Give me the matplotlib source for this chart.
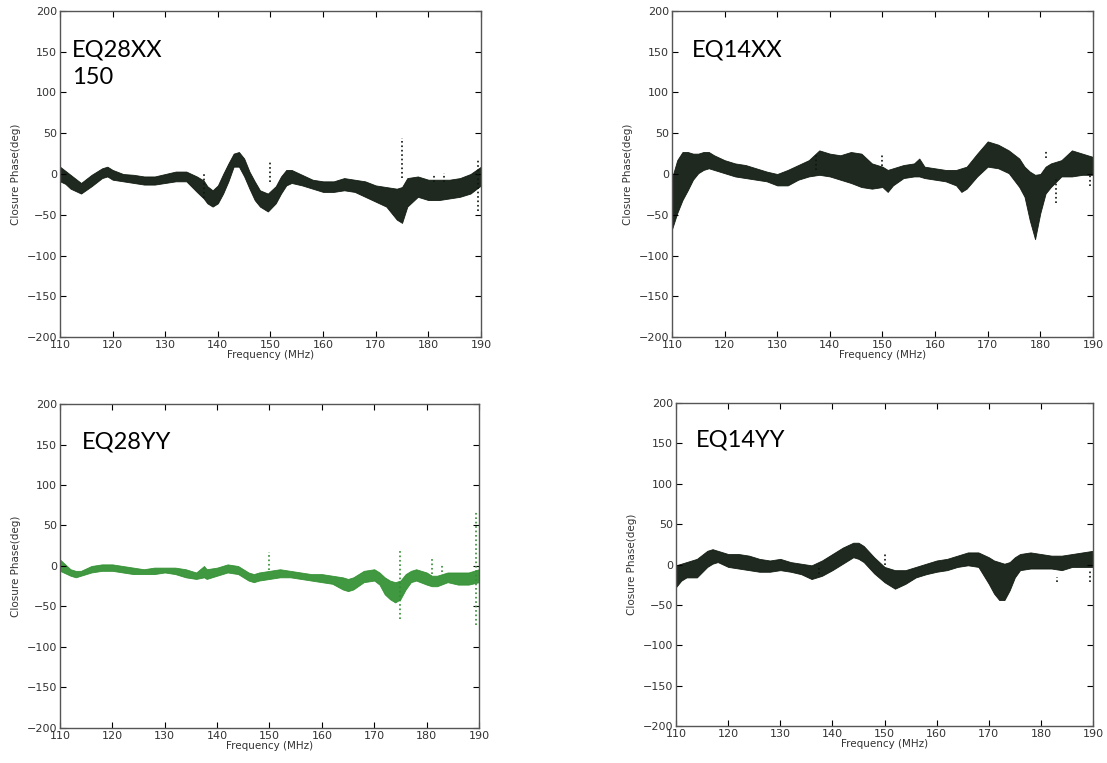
import matplotlib
matplotlib.use("Agg")
import matplotlib.pyplot as plt

# ---- EQ28XX (black) : band edges read at each frequency knot ----
eq28xx_freq = [110, 111, 112, 114, 116, 118, 119, 120, 122, 124, 126, 128, 130, 132, 134, 136, 137.3,
               138, 139, 140, 141, 142, 143, 144, 145, 146, 147, 148, 149.5, 151, 152, 153, 154, 156,
               158, 160, 162, 164, 166, 168, 170, 172, 174, 175, 176, 178, 180, 182, 184, 186, 188, 190]
eq28xx_hi = [9, 4, -1, -11, -1, 7, 9, 5, 0, -1, -3, -3, 0, 3, 3, -3, -8,
             -15, -20, -14, 0, 13, 25, 27, 19, 3, -9, -20, -24, -15, -3, 5, 5, -1,
             -7, -9, -9, -5, -7, -9, -14, -16, -18, -16, -5, -3, -7, -7, -7, -5, 0, 9]
eq28xx_lo = [-9, -12, -18, -24, -15, -5, -3, -7, -9, -11, -13, -13, -11, -9, -9, -22, -30,
             -36, -40, -36, -24, -9, 9, 9, -3, -18, -32, -40, -46, -36, -24, -14, -11, -14,
             -18, -22, -22, -20, -22, -28, -34, -40, -56, -60, -40, -28, -32, -32, -30, -28, -24, -14]
eq28xx_spike_f = [137.4, 150, 175, 181, 183, 189.5]
eq28xx_spike_top = [2, 15, 44, 0, 1, 17]
eq28xx_spike_bot = [-30, -10, -5, -10, -10, -45]

# ---- EQ14XX (black) ----
eq14xx_freq = [110, 111, 112, 113, 114, 115, 116, 117, 118, 120, 122, 124, 126, 128, 130, 132, 134,
               136, 138, 140, 142, 144, 146, 148, 150, 151, 152, 154, 156, 157, 158, 160, 162, 164,
               165, 166, 168, 170, 172, 174, 176, 177, 178, 179, 180, 181, 182, 184, 186, 188, 190]
eq14xx_hi = [-5, 17, 27, 27, 25, 25, 27, 27, 23, 17, 13, 11, 7, 3, 0, 5, 11,
             17, 29, 25, 23, 27, 25, 13, 9, 5, 7, 11, 13, 19, 9, 7, 5, 5,
             7, 9, 25, 40, 36, 29, 19, 9, 3, -1, 0, 9, 13, 17, 29, 25, 21]
eq14xx_lo = [-68, -48, -32, -20, -7, 1, 5, 7, 5, 1, -3, -5, -7, -9, -14, -14, -7,
             -3, -1, -3, -7, -11, -16, -18, -16, -22, -14, -5, -3, -3, -5, -7, -9, -14,
             -22, -18, -3, 9, 7, 1, -16, -28, -57, -80, -48, -24, -16, -3, -3, -1, -1]
eq14xx_spike_f = [137.4, 150, 181, 183, 189.5]
eq14xx_spike_top = [25, 25, 29, -5, 0]
eq14xx_spike_bot = [5, 10, 20, -35, -15]

# ---- EQ28YY (green) ----
eq28yy_freq = [110, 112, 113, 114, 116, 118, 120, 122, 124, 126, 128, 130, 132, 134, 136, 137.5,
               138, 140, 142, 144, 146, 147, 148, 150, 152, 154, 156, 158, 160, 162, 164, 165,
               166, 168, 170, 171, 172, 173, 174, 175, 176, 177, 178, 180, 181, 182, 184, 186, 188, 190]
eq28yy_hi = [8, -4, -6, -6, 0, 2, 2, 0, -2, -4, -2, -2, -2, -4, -8, 0,
             -4, -2, 2, 0, -8, -10, -8, -6, -4, -6, -8, -10, -10, -12, -14, -16,
             -14, -6, -4, -8, -14, -18, -20, -18, -10, -6, -4, -8, -12, -12, -8, -8, -8, -4]
eq28yy_lo = [-6, -12, -14, -12, -8, -6, -6, -8, -10, -10, -10, -8, -10, -14, -16, -14,
             -16, -12, -8, -10, -18, -20, -18, -16, -14, -14, -16, -18, -20, -22, -29, -31,
             -29, -20, -18, -23, -35, -41, -45, -41, -29, -20, -18, -23, -25, -25, -20, -23, -23, -20]
eq28yy_spike_f = [150, 175, 181, 183, 189.5]
eq28yy_spike_top = [17, 20, 10, 1, 67]
eq28yy_spike_bot = [-5, -65, -10, -8, -73]

# ---- EQ14YY (black) ----
eq14yy_freq = [110, 111, 112, 114, 116, 117, 118, 120, 122, 124, 126, 128, 130, 132, 134, 136, 138,
               140, 142, 144, 145, 146, 148, 150, 152, 154, 156, 158, 160, 162, 164, 166, 168,
               170, 171, 172, 173, 174, 175, 176, 178, 180, 182, 184, 186, 188, 190]
eq14yy_hi = [-1, 1, 3, 7, 17, 19, 17, 13, 13, 11, 7, 5, 7, 3, 1, -1, 5,
             13, 21, 27, 27, 23, 9, -3, -7, -7, -3, 1, 5, 7, 11, 15, 15,
             9, 5, 3, 1, 3, 9, 13, 15, 13, 11, 11, 13, 15, 17]
eq14yy_lo = [-28, -20, -16, -16, -3, 1, 3, -3, -5, -7, -9, -9, -7, -9, -12, -18, -14,
             -7, 1, 9, 7, 3, -11, -22, -30, -24, -16, -12, -9, -7, -3, -1, -3,
             -24, -36, -44, -44, -32, -16, -7, -5, -5, -5, -7, -3, -3, -3]
eq14yy_spike_f = [137.5, 150, 183, 189.5]
eq14yy_spike_top = [0, 15, -15, -5]
eq14yy_spike_bot = [-12, 0, -22, -22]

panels = [
    ("EQ28XX\n150", eq28xx_freq, eq28xx_hi, eq28xx_lo, eq28xx_spike_f, eq28xx_spike_top, eq28xx_spike_bot,
     "#0c170c", [0.0542, 0.5583, 0.3803, 0.4273], (0.028, 0.912)),
    ("EQ14XX", eq14xx_freq, eq14xx_hi, eq14xx_lo, eq14xx_spike_f, eq14xx_spike_top, eq14xx_spike_bot,
     "#0c170c", [0.6070, 0.5583, 0.3803, 0.4273], (0.047, 0.912)),
    ("EQ28YY", eq28yy_freq, eq28yy_hi, eq28yy_lo, eq28yy_spike_f, eq28yy_spike_top, eq28yy_spike_bot,
     "#2f8f2f", [0.0542, 0.0459, 0.3785, 0.4246], (0.053, 0.915)),
    ("EQ14YY", eq14yy_freq, eq14yy_hi, eq14yy_lo, eq14yy_spike_f, eq14yy_spike_top, eq14yy_spike_bot,
     "#0c170c", [0.6107, 0.0485, 0.3767, 0.4233], (0.047, 0.917)),
]

fig = plt.figure(figsize=(11.07, 7.63), dpi=100)

for name, f, hi, lo, sf, st, sb, col, rect, tpos in panels:
    ax = fig.add_axes(rect)
    ax.fill_between(f, lo, hi, color=col, linewidth=0.6, edgecolor=col, alpha=0.92)
    ax.vlines(sf, sb, st, colors=col, linestyles=":", linewidth=1.2)
    ax.set_xlim(110, 190)
    ax.set_ylim(-200, 200)
    ax.set_xticks(range(110, 191, 10))
    ax.set_yticks(range(-200, 201, 50))
    ax.tick_params(direction="in", top=True, right=True, length=4, labelsize=8,
                   labelcolor="#333333", pad=2)
    for s in ax.spines.values():
        s.set_color("#555555")
        s.set_linewidth(1.0)
    ax.set_xlabel("Frequency (MHz)", fontsize=7.5, color="#333333", labelpad=0)
    ax.set_ylabel("Closure Phase(deg)", fontsize=7.5, color="#333333", labelpad=4)
    ax.text(tpos[0], tpos[1], name, transform=ax.transAxes, ha="left", va="top",
            fontsize=17, family=["Lato", "DejaVu Sans"], linespacing=1.35)

fig.savefig("out.png", dpi=100)
